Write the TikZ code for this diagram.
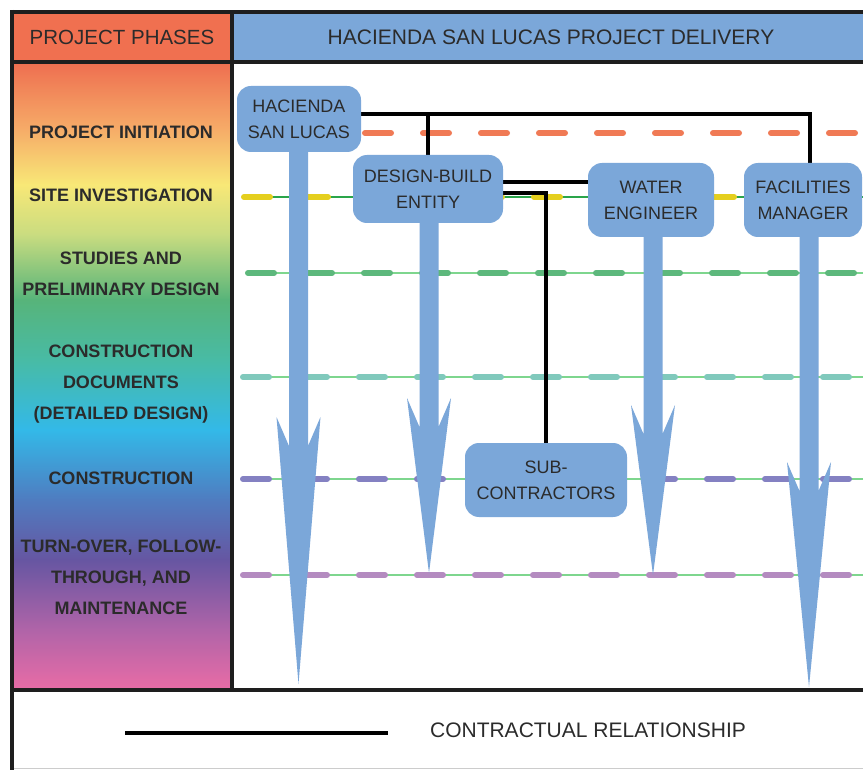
\documentclass[tikz,border=0pt]{standalone}
\usepackage{fontspec}
\setmainfont{Liberation Sans}
\definecolor{hdrorange}{HTML}{F07050}
\definecolor{boxblue}{HTML}{7BA7D9}
\definecolor{txtgray}{HTML}{2B2B2B}
\definecolor{framek}{HTML}{1E1E1E}
\definecolor{dOrange}{HTML}{F07A55}
\definecolor{dYellow}{HTML}{E5CF1E}
\definecolor{dGreen}{HTML}{5DB87C}
\definecolor{dTeal}{HTML}{80C9BC}
\definecolor{dBlue}{HTML}{8481C2}
\definecolor{dPurple}{HTML}{B48BC0}
\definecolor{thinGreen}{HTML}{7ED68E}
\definecolor{thinDark}{HTML}{2AA54A}
\definecolor{g1}{HTML}{EE6E50}
\definecolor{g2}{HTML}{F6AC68}
\definecolor{g3}{HTML}{F8E877}
\definecolor{g4}{HTML}{C9DC80}
\definecolor{g5}{HTML}{57B47A}
\definecolor{g6}{HTML}{48BBA5}
\definecolor{g7}{HTML}{33B9E8}
\definecolor{g8}{HTML}{4F7CC0}
\definecolor{g9}{HTML}{6656A2}
\definecolor{g10}{HTML}{B064A8}
\definecolor{g11}{HTML}{E96CA6}
\pgfdeclarelayer{bglayer}
\pgfdeclarelayer{linelayer}
\pgfsetlayers{bglayer,linelayer,main}
\tikzset{
  entity/.style={fill=boxblue, rounded corners=14pt, align=center, text=txtgray,
    font=\fontsize{18}{26}\selectfont, inner sep=0pt},
  phase/.style={align=center, text=txtgray, font=\bfseries\fontsize{18}{31}\selectfont},
  contract/.style={draw=black, line width=3.5pt},
  frameline/.style={draw=framek, line width=4pt},
  phasedash/.style={line width=6pt, line cap=round, dash pattern=on 26pt off 32pt},
  thinline/.style={line width=1.2pt},
  dlvarrow/.style={fill=boxblue}
}
\newcommand{\dlvarrow}[4]{% center x, top y, barb tip y, point y
  \fill[dlvarrow] (#1-9.5,#2) -- (#1-9.5,#3+29) -- (#1-22,#3) -- (#1,#4) -- (#1+22,#3) -- (#1+9.5,#3+29) -- (#1+9.5,#2) -- cycle;}
\begin{document}
\begin{tikzpicture}[x=1pt,y=-1pt]
\useasboundingbox (0,0) rectangle (863,770);
\begin{pgfonlayer}{bglayer}
\fill[white] (0,0) rectangle (863,770);
% header cells
\fill[hdrorange] (12,12) rectangle (232,62);
\fill[boxblue] (232,12) rectangle (863,62);
% gradient column
\shade[top color=g1,bottom color=g2] (12,62) rectangle (232,130);
\shade[top color=g2,bottom color=g3] (12,129.5) rectangle (232,185);
\shade[top color=g3,bottom color=g4] (12,184.5) rectangle (232,235);
\shade[top color=g4,bottom color=g5] (12,234.5) rectangle (232,300);
\shade[top color=g5,bottom color=g6] (12,299.5) rectangle (232,360);
\shade[top color=g6,bottom color=g7] (12,359.5) rectangle (232,430);
\shade[top color=g7,bottom color=g8] (12,429.5) rectangle (232,500);
\shade[top color=g8,bottom color=g9] (12,499.5) rectangle (232,560);
\shade[top color=g9,bottom color=g10] (12,559.5) rectangle (232,630);
\shade[top color=g10,bottom color=g11] (12,629.5) rectangle (232,690);
% phase lines
\draw[phasedash, dOrange] (365,133) -- (866,133);
\draw[thinline, thinDark] (244,197) -- (863,197);
\draw[phasedash, dYellow] (244,197) -- (866,197);
\draw[thinline, thinGreen] (248,273) -- (863,273);
\draw[phasedash, dGreen] (248,273) -- (866,273);
\draw[thinline, thinGreen] (243,377) -- (863,377);
\draw[phasedash, dTeal] (243,377) -- (866,377);
\draw[thinline, thinGreen] (243,479) -- (863,479);
\draw[phasedash, dBlue] (243,479) -- (866,479);
\draw[thinline, thinGreen] (243,575) -- (863,575);
\draw[phasedash, dPurple] (243,575) -- (866,575);
% delivery arrows
\dlvarrow{298.5}{140}{417}{684}
\dlvarrow{429}{210}{398}{573}
\dlvarrow{653}{225}{405}{575}
\dlvarrow{809}{225}{462}{687}
\end{pgfonlayer}
% entities
\node[entity, minimum width=124pt, minimum height=66pt] (hsl) at (299,119) {HACIENDA\\SAN LUCAS};
\node[entity, minimum width=150pt, minimum height=68pt] (dbe) at (428,189) {DESIGN-BUILD\\ENTITY};
\node[entity, minimum width=126pt, minimum height=74pt] (weng) at (651,200) {WATER\\ENGINEER};
\node[entity, minimum width=118pt, minimum height=74pt] (fman) at (803,200) {FACILITIES\\MANAGER};
\node[entity, minimum width=162pt, minimum height=74pt] (subc) at (546,480) {SUB-\\CONTRACTORS};
\coordinate (j1) at (428,114);
% contractual lines
\begin{pgfonlayer}{linelayer}
\draw[contract] ([yshift=5pt]hsl.east) -| ([xshift=7pt]fman.north);
\draw[contract] (j1) -- (dbe.north);
\draw[contract] ([yshift=7pt]dbe.east) -- ([yshift=7pt]dbe.east -| weng.west);
\draw[contract] ([yshift=-4pt]dbe.east) -| (subc.north);
\end{pgfonlayer}
% frame
\draw[frameline] (12,12) -- (863,12);
\draw[frameline] (12,62) -- (863,62);
\draw[frameline] (12,690) -- (863,690);
\draw[frameline] (12,10) -- (12,770);
\draw[frameline] (232,12) -- (232,690);
\draw[draw=gray!40, line width=1pt] (14,768.5) -- (863,768.5);
% header texts
\node[text=txtgray, font=\fontsize{20.5}{24}\selectfont] (hphases) at (122,37) {PROJECT PHASES};
\node[text=txtgray, font=\fontsize{21}{24}\selectfont] (htitle) at (551,37) {HACIENDA SAN LUCAS PROJECT DELIVERY};
% phase labels
\node[phase] (p1) at (121,132) {PROJECT INITIATION};
\node[phase] (p2) at (121,195) {SITE INVESTIGATION};
\node[phase] (p3) at (121,273.5) {STUDIES AND\\PRELIMINARY DESIGN};
\node[phase] (p4) at (121,384) {CONSTRUCTION\\DOCUMENTS\\(DETAILED DESIGN)};
\node[phase] (p5) at (121,478) {CONSTRUCTION};
\node[phase] (p6) at (121,577) {TURN-OVER, FOLLOW-\\THROUGH, AND\\MAINTENANCE};
% legend
\coordinate (l1) at (125,733);
\coordinate (l2) at (388,733);
\draw[contract, line width=4pt] (l1) -- (l2);
\node[text=txtgray, font=\fontsize{21}{24}\selectfont] (legtxt) at (588,730) {CONTRACTUAL RELATIONSHIP};
\end{tikzpicture}
\end{document}
